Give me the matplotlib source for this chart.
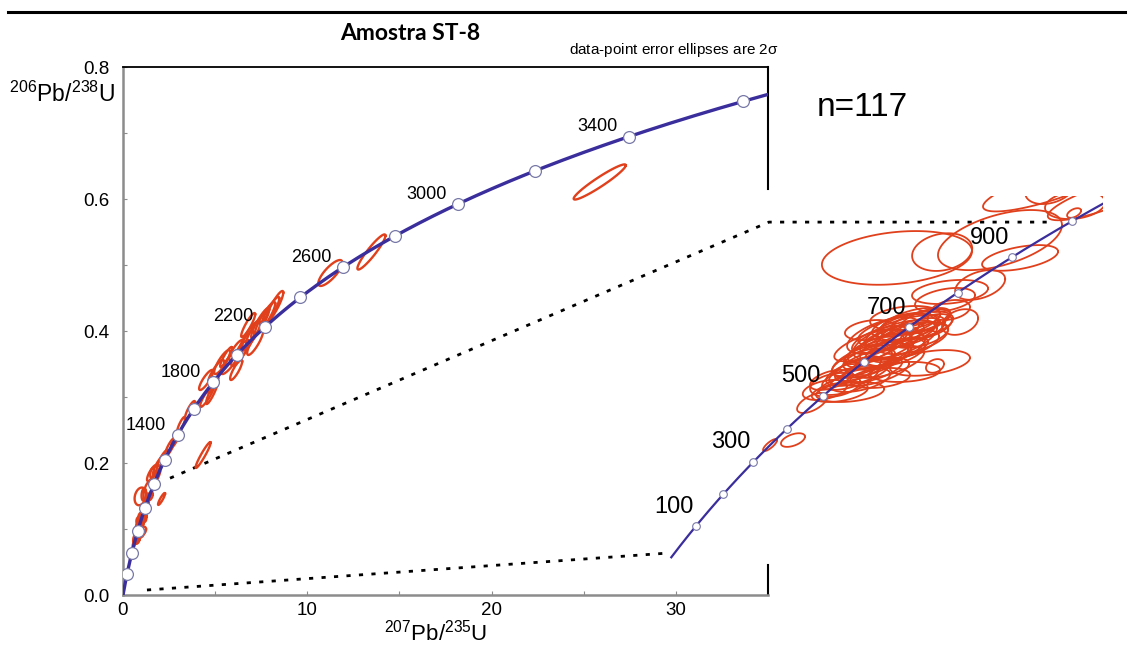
import numpy as np
import matplotlib
matplotlib.use("Agg")
import matplotlib.pyplot as plt
from matplotlib.lines import Line2D

plt.rcParams['font.family'] = ['Liberation Sans', 'DejaVu Sans']
plt.rcParams['mathtext.fontset'] = 'custom'
plt.rcParams['mathtext.rm'] = 'Liberation Sans'
plt.rcParams['mathtext.it'] = 'Liberation Sans:italic'
plt.rcParams['mathtext.default'] = 'regular'

# decay constants (1/yr)
L238 = 1.55125e-10
L235 = 9.8485e-10

main_marker_ages = [200, 400, 600, 800, 1000, 1200, 1400, 1600, 1800, 2000,
                    2200, 2400, 2600, 2800, 3000, 3200, 3400, 3600]
main_label_ages = [1400, 1800, 2200, 2600, 3000, 3400]
inset_marker_ages = [100, 200, 300, 400, 500, 600, 700, 800, 900, 1000]
inset_label_ages = [100, 300, 500, 700, 900]

# data points: 207Pb/235U, 206Pb/238U, 1s errors, error correlation
ell_x = [0.748, 0.781, 0.810, 0.831, 0.865, 0.894, 0.915, 0.936, 0.957, 0.978,
         0.999, 1.020, 1.041, 1.062, 0.873, 0.831, 0.936, 0.978, 0.790, 0.907,
         1.007, 0.852, 1.082, 0.727, 0.957,
         0.824, 0.886, 0.948, 0.798, 0.856, 0.923, 0.769, 0.999, 0.894, 0.957,
         0.840, 1.041, 0.705, 0.642, 0.978,
         0.685, 0.664, 0.748, 1.082, 1.103, 0.873, 1.208, 1.166, 1.166, 1.145,
         0.589, 0.413, 0.509, 0.978, 0.831,
         0.944, 1.133, 1.375, 1.459, 1.689, 1.685, 1.585, 1.292,
         1.576, 1.902, 1.793, 2.174, 2.554, 2.826, 2.092, 4.348, 4.565, 4.837,
         4.511, 5.054, 5.380, 5.815, 6.141, 6.359, 6.630, 6.902, 7.174, 7.446,
         7.717, 7.989, 8.207, 6.793, 7.174, 6.141, 11.25, 13.48, 25.87, 3.641,
         3.152, 5.598, 4.891]
ell_y = [0.0895, 0.0925, 0.0960, 0.0985, 0.1009, 0.1034, 0.1059, 0.1084, 0.1104, 0.1124,
         0.1134, 0.1154, 0.1174, 0.1184, 0.1084, 0.1024, 0.1024, 0.1059, 0.0885, 0.0975,
         0.1094, 0.0925, 0.1154, 0.0860, 0.1159,
         0.1058, 0.1108, 0.1134, 0.0973, 0.1043, 0.1093, 0.0933, 0.1174, 0.0994, 0.1034,
         0.0935, 0.1109, 0.0825, 0.0835, 0.0925,
         0.0860, 0.0885, 0.0825, 0.0970, 0.0955, 0.0895, 0.1174, 0.1234, 0.1324, 0.1284,
         0.0770, 0.0560, 0.0585, 0.1194, 0.1134,
         0.1494, 0.1523, 0.1583, 0.1494, 0.1758, 0.1718, 0.1843, 0.1359,
         0.1848, 0.1955, 0.1788, 0.2076, 0.2242, 0.2348, 0.1455, 0.2121, 0.3015, 0.3076,
         0.3258, 0.3379, 0.3530, 0.3530, 0.3410, 0.3667, 0.3788, 0.3924, 0.4015, 0.4121,
         0.4197, 0.4288, 0.4364, 0.4090, 0.3833, 0.3712, 0.4879, 0.5197, 0.6258, 0.2803,
         0.2576, 0.3606, 0.3180]
ell_sx = [0.0586, 0.0669, 0.0628, 0.0795, 0.0732, 0.0837, 0.0628, 0.0879, 0.0732, 0.0837,
          0.0628, 0.0795, 0.0628, 0.0523, 0.0586, 0.0544, 0.0628, 0.0711, 0.0628, 0.0753,
          0.0753, 0.0711, 0.0460, 0.0544, 0.0586,
          0.0711, 0.0753, 0.0837, 0.0628, 0.0586, 0.0669, 0.0544, 0.0628, 0.0544, 0.0586,
          0.0628, 0.0586, 0.0586, 0.0460, 0.0732,
          0.0523, 0.0418, 0.0711, 0.0837, 0.0188, 0.0628, 0.0377, 0.0418, 0.0795, 0.0628,
          0.0314, 0.0146, 0.0251, 0.0732, 0.0523,
          0.157, 0.0628, 0.1297, 0.0795, 0.0628, 0.0146, 0.0523, 0.0523,
          0.136, 0.136, 0.109, 0.136, 0.136, 0.109, 0.095, 0.204, 0.190, 0.163,
          0.190, 0.217, 0.217, 0.245, 0.163, 0.245, 0.245, 0.272, 0.245, 0.245,
          0.272, 0.245, 0.245, 0.190, 0.217, 0.190, 0.326, 0.380, 0.707, 0.136,
          0.109, 0.163, 0.136]
ell_sy = [0.0030, 0.0035, 0.0040, 0.0045, 0.0037, 0.0045, 0.0040, 0.0050, 0.0035, 0.0042,
          0.0030, 0.0037, 0.0032, 0.0030, 0.0035, 0.0030, 0.0035, 0.0037, 0.0030, 0.0040,
          0.0040, 0.0035, 0.0030, 0.0025, 0.0030,
          0.0040, 0.0045, 0.0040, 0.0035, 0.0035, 0.0037, 0.0035, 0.0035, 0.0030, 0.0030,
          0.0032, 0.0032, 0.0025, 0.0025, 0.0025,
          0.0030, 0.0025, 0.0025, 0.0032, 0.0017, 0.0025, 0.0032, 0.0025, 0.0030, 0.0030,
          0.0025, 0.0015, 0.0017, 0.0030, 0.0025,
          0.0067, 0.0047, 0.0075, 0.0032, 0.0035, 0.0012, 0.0040, 0.0037,
          0.0061, 0.0068, 0.0053, 0.0061, 0.0068, 0.0053, 0.0045, 0.0098, 0.0083, 0.0091,
          0.0076, 0.0091, 0.0091, 0.0091, 0.0076, 0.0098, 0.0106, 0.0114, 0.0106, 0.0114,
          0.0121, 0.0114, 0.0121, 0.0091, 0.0098, 0.0076, 0.0098, 0.0133, 0.0133, 0.0068,
          0.0061, 0.0076, 0.0061]
ell_rho = [0.6, 0.6, 0.7, 0.6, 0.7, 0.6, 0.7, 0.6, 0.7, 0.6,
           0.7, 0.5, 0.6, 0.6, 0.6, 0.7, 0.5, 0.6, 0.5, 0.6,
           0.5, 0.6, 0.5, 0.6, 0.6,
           0.7, 0.6, 0.6, 0.6, 0.7, 0.7, 0.7, 0.6, 0.7, 0.7,
           0.6, 0.5, 0.4, 0.4, 0.2,
           0.3, 0.5, 0.3, 0.4, 0.3, 0.3, 0.3, 0.3, 0.3, 0.4,
           0.6, 0.8, 0.5, 0.3, 0.3,
           0.25, 0.2, 0.5, 0.5, 0.2, 0.5, 0.3, 0.4,
           0.8, 0.85, 0.8, 0.85, 0.85, 0.85, 0.9, 0.95, 0.9, 0.9,
           0.85, 0.85, 0.85, 0.85, 0.85, 0.85, 0.85, 0.85, 0.9, 0.9,
           0.9, 0.9, 0.9, 0.9, 0.85, 0.85, 0.8, 0.93, 0.95, 0.85,
           0.85, 0.9, 0.85]

# zoom connector lines (207/235, 206/238)
conn_low_x = [1.30, 29.6]
conn_low_y = [0.0076, 0.0636]
conn_up_x = [2.55, 35.05, 50.3]
conn_up_y = [0.177, 0.565, 0.565]

CURVE = '#3a2d9c'
RED = '#e0401c'
GREY = '#8c8c8c'


def concordia(t_ma):
    t = np.asarray(t_ma, dtype=float) * 1e6
    return np.exp(L235 * t) - 1, np.exp(L238 * t) - 1


def ellipse(x, y, sx, sy, rho, n=120):
    th = np.linspace(0, 2 * np.pi, n)
    ex = x + 2 * sx * np.cos(th)
    ey = y + 2 * sy * (rho * np.cos(th) + np.sqrt(1 - rho ** 2) * np.sin(th))
    return ex, ey


fig = plt.figure(figsize=(11.32, 6.49), dpi=100)
ax = fig.add_axes([123 / 1132, 1 - 595 / 649, 645 / 1132, 528 / 649])

# main concordia
cx, cy = concordia(np.linspace(0, 3640, 600))
ax.plot(cx, cy, color=CURVE, lw=2.4, zorder=3)
for i in range(len(ell_x)):
    ex, ey = ellipse(ell_x[i], ell_y[i], ell_sx[i], ell_sy[i], ell_rho[i])
    ax.plot(ex, ey, color=RED, lw=1.7, zorder=2)
mx, my = concordia(main_marker_ages)
ax.plot(mx, my, 'o', ms=8.5, mfc='white', mec='#7878a8', mew=0.9, zorder=4)
lx, ly = concordia(main_label_ages)
for a, x, y in zip(main_label_ages, lx, ly):
    ax.annotate(str(a), (x, y), xytext=(-23, 7), textcoords='offset points',
                ha='center', va='center', fontsize=13)

ax.plot(conn_low_x, conn_low_y, color='black', lw=2, ls=(0, (1.5, 3)),
        clip_on=False, zorder=1)
ax.plot(conn_up_x, conn_up_y, color='black', lw=2, ls=(0, (1.5, 3)),
        clip_on=False, zorder=1)

ax.set_xlim(0, 35)
ax.set_ylim(0, 0.8)
ax.set_xticks([0, 10, 20, 30])
ax.set_xticks([5, 15, 25], minor=True)
ax.set_yticks([0, 0.2, 0.4, 0.6, 0.8])
ax.set_yticks([0.1, 0.3, 0.5, 0.7], minor=True)
ax.set_yticklabels(['0.0', '0.2', '0.4', '0.6', '0.8'])
ax.tick_params(which='both', direction='in', length=3, width=0.8, color=GREY,
               labelsize=13.5)
ax.tick_params(axis='y', pad=10)
ax.tick_params(axis='x', pad=5)
for s in ['left', 'bottom']:
    ax.spines[s].set_color(GREY)
    ax.spines[s].set_linewidth(1.8)
ax.spines['top'].set_linewidth(1.3)
ax.spines['right'].set_visible(False)
ax.plot([1, 1], [1, 0.768], transform=ax.transAxes, color='black', lw=1.5,
        clip_on=False)
ax.plot([1, 1], [0.057, 0], transform=ax.transAxes, color='black', lw=1.5,
        clip_on=False)

ax.text(-0.012, 0.948, r'$^{206}$Pb/$^{238}$U', transform=ax.transAxes,
        ha='right', va='center', fontsize=16.5)
ax.text(0.485, -0.072, r'$^{207}$Pb/$^{235}$U', transform=ax.transAxes,
        ha='center', va='center', fontsize=16)
ax.text(1.016, 1.033, r'data-point error ellipses are 2$\sigma$',
        transform=ax.transAxes, ha='right', va='center', fontsize=11)

# inset: enlarged young part of the concordia
ins = fig.add_axes([640 / 1132, 1 - 620 / 649, 463 / 1132, 424 / 649])
ins.set_xlim(-0.131, 1.806)
ins.set_ylim(-0.0313, 0.1803)
ins.axis('off')
ins.patch.set_alpha(0)
ix, iy = concordia(np.linspace(0, 1060, 400))
ins.plot(ix, iy, color=CURVE, lw=1.6, zorder=3)
for i in range(len(ell_x)):
    ex, ey = ellipse(ell_x[i], ell_y[i], ell_sx[i], ell_sy[i], ell_rho[i])
    ins.plot(ex, ey, color=RED, lw=1.3, zorder=2)
imx, imy = concordia(inset_marker_ages)
ins.plot(imx, imy, 'o', ms=5.5, mfc='white', mec='#7878a8', mew=0.8, zorder=4)
ilx, ily = concordia(inset_label_ages)
for a, x, y in zip(inset_label_ages, ilx, ily):
    ins.annotate(str(a), (x, y), xytext=(-16, 14), textcoords='offset points',
                 ha='center', va='center', fontsize=17, zorder=5)

fig.text(410 / 1132, 1 - 33 / 649, 'Amostra ST-8', ha='center', va='center',
         fontsize=16.5, fontweight='bold', family=['Lato', 'DejaVu Sans'])
fig.text(862 / 1132, 1 - 108 / 649, 'n=117', ha='center', va='center',
         fontsize=24)
fig.add_artist(Line2D([8 / 1132, 1125 / 1132], [1 - 12 / 649, 1 - 12 / 649],
                      color='black', lw=2.2))

fig.savefig('out.png', dpi=100)
